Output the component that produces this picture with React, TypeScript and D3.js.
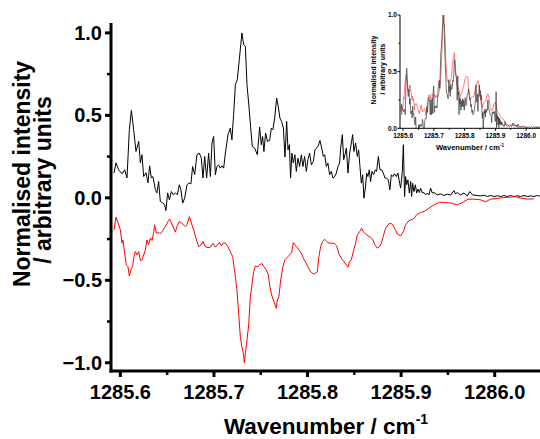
import React from "react";
import * as d3 from "d3";

// experimental spectrum (black), [wavenumber / cm-1, normalised intensity]
const experiment: [number, number][] = [
  [1285.5932, 0.15], [1285.5953, 0.212], [1285.5982, 0.17], [1285.6017, 0.146], [1285.6046, 0.17],
  [1285.6071, 0.121], [1285.6096, 0.413], [1285.6118, 0.53], [1285.6142, 0.413], [1285.6167, 0.281],
  [1285.6196, 0.342], [1285.6214, 0.212], [1285.6231, 0.261], [1285.6249, 0.129], [1285.6274, 0.152],
  [1285.6295, 0.091], [1285.6313, 0.194], [1285.6331, 0.121], [1285.6348, 0.129], [1285.6374, 0.049],
  [1285.6391, 0.03], [1285.6409, 0.099], [1285.6427, -0.022], [1285.6452, -0.03], [1285.6473, -0.043],
  [1285.6487, -0.077], [1285.6505, 0.03], [1285.6524, -0.012], [1285.6545, 0.038], [1285.6566, 0.018],
  [1285.6588, 0.03], [1285.6609, 0.018], [1285.663, 0.079], [1285.6647, 0.049], [1285.6666, -0.032],
  [1285.6687, -0.002], [1285.6712, 0.079], [1285.673, 0.089], [1285.6754, 0.085], [1285.6772, 0.19],
  [1285.6794, 0.14], [1285.6818, 0.261], [1285.6844, 0.271], [1285.6865, 0.241], [1285.6883, 0.12],
  [1285.6901, 0.251], [1285.6922, 0.12], [1285.6943, 0.271], [1285.6962, 0.129], [1285.6979, 0.332],
  [1285.6997, 0.372], [1285.7015, 0.14], [1285.7032, 0.19], [1285.705, 0.2], [1285.7068, 0.18],
  [1285.7086, 0.194], [1285.7104, 0.18], [1285.7122, 0.271], [1285.715, 0.383], [1285.7175, 0.423],
  [1285.7192, 0.352], [1285.721, 0.504], [1285.7229, 0.686], [1285.725, 0.717], [1285.7271, 0.838],
  [1285.7299, 1.0], [1285.7317, 0.929], [1285.7336, 0.919], [1285.7353, 0.686], [1285.7371, 0.575],
  [1285.7392, 0.428], [1285.741, 0.311], [1285.7435, 0.302], [1285.7464, 0.261], [1285.7488, 0.429],
  [1285.7506, 0.322], [1285.752, 0.372], [1285.7534, 0.281], [1285.7552, 0.393], [1285.7571, 0.342],
  [1285.7595, 0.348], [1285.7613, 0.423], [1285.763, 0.413], [1285.7649, 0.484], [1285.767, 0.605],
  [1285.7688, 0.551], [1285.7705, 0.484], [1285.7723, 0.463], [1285.7742, 0.423], [1285.7759, 0.247],
  [1285.7777, 0.463], [1285.7791, 0.291], [1285.7806, 0.322], [1285.7819, 0.12], [1285.7833, 0.271],
  [1285.7848, 0.211], [1285.7865, 0.261], [1285.788, 0.16], [1285.7897, 0.241], [1285.7916, 0.19],
  [1285.7934, 0.261], [1285.7951, 0.19], [1285.7969, 0.251], [1285.7987, 0.16], [1285.8004, 0.231],
  [1285.8022, 0.271], [1285.8041, 0.2], [1285.8062, 0.22], [1285.8079, 0.291], [1285.8097, 0.302],
  [1285.8115, 0.316], [1285.8133, 0.348], [1285.8151, 0.302], [1285.8169, 0.251], [1285.8183, 0.261],
  [1285.8201, 0.19], [1285.8218, 0.211], [1285.8236, 0.14], [1285.8254, 0.16], [1285.8271, 0.12],
  [1285.829, 0.129], [1285.8308, 0.15], [1285.8325, 0.19], [1285.8343, 0.211], [1285.8354, 0.302],
  [1285.8372, 0.383], [1285.8386, 0.231], [1285.84, 0.261], [1285.8415, 0.302], [1285.8432, 0.15],
  [1285.845, 0.271], [1285.8468, 0.332], [1285.8482, 0.383], [1285.8496, 0.281], [1285.8514, 0.332],
  [1285.8532, 0.251], [1285.8546, 0.291], [1285.856, 0.19], [1285.8575, 0.089], [1285.8589, 0.14],
  [1285.8603, -0.002], [1285.8618, 0.059], [1285.8632, 0.15], [1285.8645, 0.129], [1285.866, 0.17],
  [1285.8674, 0.099], [1285.8688, 0.16], [1285.8706, 0.14], [1285.8724, 0.17], [1285.8738, 0.16],
  [1285.8757, 0.251], [1285.8774, 0.17], [1285.8792, 0.17], [1285.881, 0.15], [1285.8827, 0.12],
  [1285.8845, 0.12], [1285.8863, 0.109], [1285.888, 0.049], [1285.8895, 0.14], [1285.8912, 0.129],
  [1285.8931, 0.146], [1285.8949, 0.129], [1285.8966, 0.15], [1285.8984, 0.089], [1285.8995, 0.059],
  [1285.9013, 0.16], [1285.9024, 0.322], [1285.9037, 0.008], [1285.9048, 0.129], [1285.9059, 0.079],
  [1285.9073, 0.109], [1285.9088, 0.029], [1285.9102, 0.099], [1285.9112, 0.008], [1285.9123, 0.089],
  [1285.9137, 0.038], [1285.9152, 0.079], [1285.9166, 0.029], [1285.918, 0.053], [1285.9195, 0.032],
  [1285.9208, 0.059], [1285.9227, 0.029], [1285.9244, 0.032], [1285.9262, 0.018], [1285.928, 0.029],
  [1285.9297, 0.018], [1285.9315, 0.059], [1285.9333, 0.029], [1285.9351, 0.032], [1285.9387, 0.018],
  [1285.9422, 0.024], [1285.9457, 0.014], [1285.9494, 0.022], [1285.9529, 0.016], [1285.9564, 0.044],
  [1285.9582, 0.024], [1285.96, 0.032], [1285.9636, 0.018], [1285.9671, 0.029], [1285.9707, 0.012],
  [1285.9735, 0.038], [1285.9761, 0.018], [1285.9814, 0.014], [1285.985, 0.012], [1285.9885, 0.016],
  [1285.9921, 0.008], [1285.9956, 0.014], [1285.9992, 0.008], [1286.0028, 0.012], [1286.0063, 0.008],
  [1286.0098, 0.014], [1286.0135, 0.008], [1286.017, 0.014], [1286.0205, 0.008], [1286.0242, 0.012],
  [1286.0277, 0.008], [1286.0313, 0.014], [1286.0349, 0.008], [1286.0384, 0.012], [1286.042, 0.008],
  [1286.0456, 0.014], [1286.0491, 0.009],
];

// simulated spectrum (red, drawn inverted), [wavenumber / cm-1, normalised intensity]
const simulation: [number, number][] = [
  [1285.5932, -0.194], [1285.5953, -0.117], [1285.5974, -0.15], [1285.6, -0.194], [1285.6017, -0.275],
  [1285.6028, -0.255], [1285.6046, -0.336], [1285.6064, -0.407], [1285.6081, -0.417], [1285.6096, -0.474],
  [1285.6118, -0.427], [1285.6131, -0.417], [1285.6142, -0.366], [1285.616, -0.326], [1285.6177, -0.346],
  [1285.6196, -0.326], [1285.6214, -0.381], [1285.6231, -0.376], [1285.6249, -0.346], [1285.6267, -0.316],
  [1285.6284, -0.255], [1285.6302, -0.285], [1285.6321, -0.245], [1285.6338, -0.259], [1285.6356, -0.211],
  [1285.6366, -0.164], [1285.6385, -0.214], [1285.6409, -0.211], [1285.6427, -0.219], [1285.6452, -0.199],
  [1285.6481, -0.174], [1285.6509, -0.144], [1285.6527, -0.129], [1285.6551, -0.158], [1285.6588, -0.208],
  [1285.6605, -0.174], [1285.663, -0.144], [1285.6658, -0.154], [1285.6694, -0.174], [1285.6712, -0.164],
  [1285.6737, -0.114], [1285.6759, -0.154], [1285.6783, -0.194], [1285.6808, -0.245], [1285.6837, -0.296],
  [1285.6865, -0.285], [1285.6883, -0.265], [1285.6908, -0.296], [1285.6936, -0.302], [1285.6962, -0.299],
  [1285.6989, -0.275], [1285.7015, -0.299], [1285.7036, -0.285], [1285.7058, -0.271], [1285.7079, -0.291],
  [1285.7096, -0.275], [1285.7122, -0.275], [1285.715, -0.296], [1285.7175, -0.326], [1285.72, -0.356],
  [1285.7229, -0.478], [1285.7246, -0.559], [1285.7264, -0.7], [1285.7282, -0.842], [1285.7299, -0.903],
  [1285.7317, -0.953], [1285.7325, -1.0], [1285.7336, -0.943], [1285.7353, -0.862], [1285.7371, -0.771],
  [1285.7389, -0.599], [1285.7406, -0.528], [1285.7424, -0.448], [1285.7442, -0.413], [1285.747, -0.417],
  [1285.7488, -0.407], [1285.751, -0.397], [1285.7534, -0.417], [1285.756, -0.437], [1285.7581, -0.468],
  [1285.7598, -0.539], [1285.7616, -0.589], [1285.7641, -0.63], [1285.7667, -0.67], [1285.7677, -0.619],
  [1285.7694, -0.599], [1285.7713, -0.498], [1285.7737, -0.417], [1285.7759, -0.376], [1285.7784, -0.36],
  [1285.7809, -0.346], [1285.783, -0.332], [1285.7848, -0.271], [1285.7865, -0.285], [1285.7891, -0.302],
  [1285.7916, -0.322], [1285.7937, -0.34], [1285.7955, -0.366], [1285.798, -0.39], [1285.8004, -0.417],
  [1285.8026, -0.443], [1285.8051, -0.457], [1285.8076, -0.461], [1285.8105, -0.448], [1285.8122, -0.356],
  [1285.814, -0.296], [1285.8161, -0.265], [1285.8183, -0.251], [1285.8204, -0.265], [1285.8229, -0.275],
  [1285.8254, -0.275], [1285.8282, -0.275], [1285.8311, -0.291], [1285.8336, -0.34], [1285.8361, -0.366],
  [1285.8389, -0.387], [1285.8415, -0.407], [1285.8432, -0.421], [1285.8447, -0.387], [1285.8468, -0.376],
  [1285.8489, -0.326], [1285.8514, -0.275], [1285.8532, -0.225], [1285.8557, -0.205], [1285.8578, -0.184],
  [1285.8596, -0.205], [1285.8621, -0.22], [1285.8645, -0.231], [1285.8674, -0.239], [1285.8699, -0.255],
  [1285.872, -0.285], [1285.8746, -0.305], [1285.877, -0.296], [1285.8789, -0.275], [1285.881, -0.231],
  [1285.8834, -0.184], [1285.8859, -0.164], [1285.888, -0.154], [1285.8906, -0.16], [1285.8931, -0.184],
  [1285.8959, -0.219], [1285.8995, -0.231], [1285.9024, -0.205], [1285.9048, -0.164], [1285.9083, -0.138],
  [1285.913, -0.129], [1285.9166, -0.103], [1285.9208, -0.089], [1285.9244, -0.083], [1285.9297, -0.063],
  [1285.9351, -0.043], [1285.9411, -0.026], [1285.9476, -0.029], [1285.9536, -0.032], [1285.96, -0.043],
  [1285.9654, -0.029], [1285.9714, -0.008], [1285.9778, -0.008], [1285.985, -0.012], [1285.9903, -0.024],
  [1285.9956, -0.008], [1286.0028, -0.004], [1286.0098, 0.002], [1286.017, 0.004], [1286.0223, 0.008],
  [1286.0277, -0.002], [1286.0349, -0.008], [1286.042, -0.006],
];

const xTicks = [1285.6, 1285.7, 1285.8, 1285.9, 1286.0];
const xMinor = [1285.65, 1285.75, 1285.85, 1285.95];
const yTicks = [-1.0, -0.5, 0.0, 0.5, 1.0];
const yMinor = [-0.75, -0.25, 0.25, 0.75];
const insetYTicks = [0.0, 0.5, 1.0];
const insetYMinor = [0.25, 0.75];

const FONT = "'Liberation Sans', Arial, Helvetica, sans-serif";

export default function App() {
  // main axes
  const x = d3.scaleLinear().domain([1285.59, 1286.05]).range([111, 541.5]);
  const y = d3.scaleLinear().domain([-1.05, 1.06]).range([371, 23]);
  // inset axes
  const ix = d3.scaleLinear().domain([1285.59, 1286.045]).range([400, 540]);
  const iy = d3.scaleLinear().domain([0, 1]).range([128.3, 15]);

  const mainLine = d3.line<[number, number]>().x(d => x(d[0])).y(d => y(d[1]));
  const insetLine = d3.line<[number, number]>().x(d => ix(d[0])).y(d => iy(d[1]));
  const flipped = simulation.map(d => [d[0], -d[1]] as [number, number]);

  const fmt = d3.format(".1f");
  const [y0, y1] = y.range();
  const [ix0, ix1] = ix.range();
  const [iy0, iy1] = iy.range();

  return (
    <svg width={540} height={439} style={{ position: "absolute", left: 0, top: 0, background: "#fff" }} fontFamily={FONT}>
      <defs>
        <clipPath id="mainClip">
          <rect x={x.range()[0]} y={y1} width={x.range()[1] - x.range()[0]} height={y0 - y1} />
        </clipPath>
        <clipPath id="insetClip">
          <rect x={ix0} y={iy1} width={ix1 - ix0} height={iy0 - iy1} />
        </clipPath>
      </defs>

      <g clipPath="url(#mainClip)" fill="none">
        <path d={mainLine(experiment) || ""} stroke="#000" strokeWidth={1} />
        <path d={mainLine(simulation) || ""} stroke="#ff0000" strokeWidth={1} />
      </g>

      {/* main axes */}
      <line x1={x.range()[0]} x2={x.range()[0]} y1={y1} y2={y0 + 1.5} stroke="#000" strokeWidth={3} />
      <line x1={x.range()[0] - 1.5} x2={541.5} y1={y0} y2={y0} stroke="#000" strokeWidth={3} />
      {xTicks.map(t => (
        <g key={"xt" + t}>
          <line x1={x(t)} x2={x(t)} y1={y0} y2={y0 + 6} stroke="#000" strokeWidth={3} />
          <text x={x(t)} y={399} textAnchor="middle" fontSize={20} fontWeight="bold">{fmt(t)}</text>
        </g>
      ))}
      {xMinor.map(t => (
        <line key={"xm" + t} x1={x(t)} x2={x(t)} y1={y0} y2={y0 + 4} stroke="#000" strokeWidth={2.5} />
      ))}
      {yTicks.map(t => (
        <g key={"yt" + t}>
          <line x1={x.range()[0]} x2={x.range()[0] - 6} y1={y(t)} y2={y(t)} stroke="#000" strokeWidth={3} />
          <text x={102} y={y(t) + 7} textAnchor="end" fontSize={20} fontWeight="bold">{fmt(t)}</text>
        </g>
      ))}
      {yMinor.map(t => (
        <line key={"ym" + t} x1={x.range()[0]} x2={x.range()[0] - 4} y1={y(t)} y2={y(t)} stroke="#000" strokeWidth={2.5} />
      ))}
      <text x={326} y={433.5} textAnchor="middle" fontSize={22.5} fontWeight="bold">
        Wavenumber / cm<tspan fontSize={14} dy={-10}>-1</tspan>
      </text>
      <text transform="translate(30,174) rotate(-90)" textAnchor="middle" fontSize={23} fontWeight="bold">Normalised intensity</text>
      <text transform="translate(51,180) rotate(-90)" textAnchor="middle" fontSize={23} fontWeight="bold">/ arbitrary units</text>

      {/* inset */}
      <g clipPath="url(#insetClip)" fill="none">
        <path d={insetLine(flipped) || ""} stroke="#ff5a5a" strokeWidth={0.8} />
        <path d={insetLine(experiment) || ""} stroke="#333" strokeWidth={0.8} opacity={0.85} />
      </g>
      <line x1={ix0} x2={ix0} y1={iy1} y2={iy0} stroke="#000" strokeWidth={1} />
      <line x1={ix0} x2={ix1} y1={iy0} y2={iy0} stroke="#000" strokeWidth={1} />
      {xTicks.map(t => (
        <g key={"ixt" + t}>
          <line x1={ix(t)} x2={ix(t)} y1={iy0} y2={iy0 + 2.5} stroke="#000" strokeWidth={1} />
          <text x={ix(t)} y={137.5} textAnchor="middle" fontSize={6.5} fontWeight="bold">{fmt(t)}</text>
        </g>
      ))}
      {xMinor.map(t => (
        <line key={"ixm" + t} x1={ix(t)} x2={ix(t)} y1={iy0} y2={iy0 + 1.5} stroke="#000" strokeWidth={1} />
      ))}
      {insetYTicks.map(t => (
        <g key={"iyt" + t}>
          <line x1={ix0} x2={ix0 - 2.5} y1={iy(t)} y2={iy(t)} stroke="#000" strokeWidth={1} />
          <text x={397} y={iy(t) + 2.3} textAnchor="end" fontSize={6.5} fontWeight="bold">{fmt(t)}</text>
        </g>
      ))}
      {insetYMinor.map(t => (
        <line key={"iym" + t} x1={ix0} x2={ix0 - 1.5} y1={iy(t)} y2={iy(t)} stroke="#000" strokeWidth={1} />
      ))}
      <text x={470} y={149.5} textAnchor="middle" fontSize={7.5} fontWeight="bold">
        Wavenumber / cm<tspan fontSize={4.5} dy={-3}>-1</tspan>
      </text>
      <text transform="translate(375.5,70) rotate(-90)" textAnchor="middle" fontSize={7} fontWeight="bold">Normalised intensity</text>
      <text transform="translate(384.5,69) rotate(-90)" textAnchor="middle" fontSize={7} fontWeight="bold">/ arbitrary units</text>
    </svg>
  );
}
